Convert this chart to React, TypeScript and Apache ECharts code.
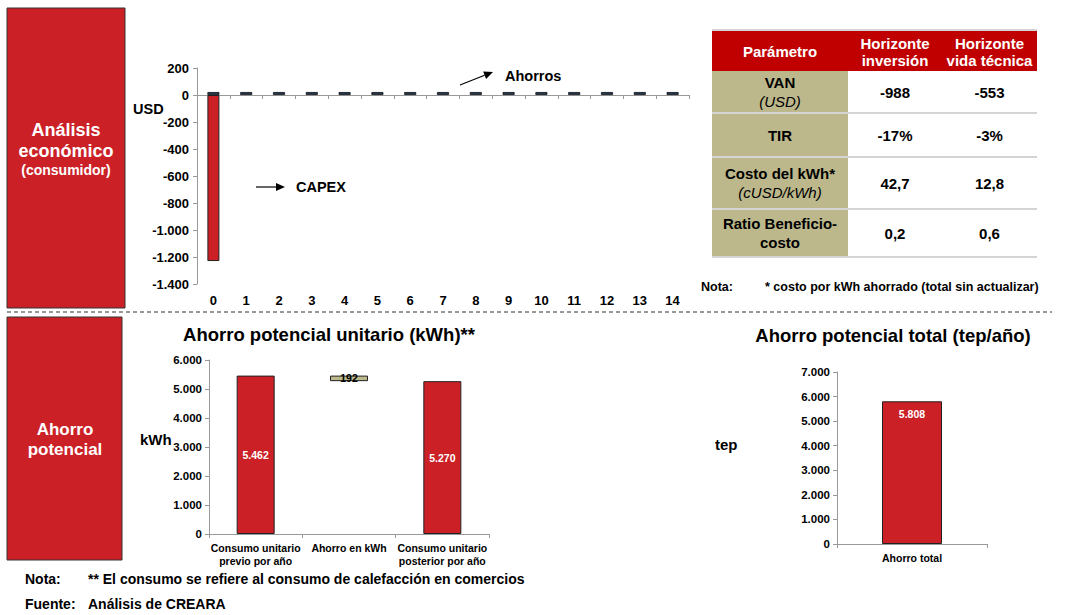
import React, { useEffect, useRef } from "react";
import * as echarts from "echarts";

const FONT = "'Liberation Sans', Arial, Helvetica, sans-serif";

// Top chart: cash flow per year (USD)
const years = ["0", "1", "2", "3", "4", "5", "6", "7", "8", "9", "10", "11", "12", "13", "14"];
const capexValues = [-1230, null, null, null, null, null, null, null, null, null, null, null, null, null, null];
const savingsValues = [22, 22, 22, 22, 22, 22, 22, 22, 22, 22, 22, 22, 22, 22, 22];

// Bottom-left chart: unit savings (kWh)
const unitCategories = ["Consumo unitario\nprevio por año", "Ahorro en kWh", "Consumo unitario\nposterior por año"];
const unitBefore = 5462;
const unitSaving = 192;
const unitAfter = 5270;

// Bottom-right chart: total savings (tep/año)
const totalCategories = ["Ahorro total"];
const totalValues = [5808];

// Table
const tableHeader = ["Parámetro", "Horizonte\ninversión", "Horizonte\nvida técnica"];
const tableParams = ["VAN", "TIR", "Costo del kWh*", "Ratio Beneficio-\ncosto"];
const tableUnits = ["(USD)", "", "(cUSD/kWh)", ""];
const tableInversion = ["-988", "-17%", "42,7", "0,2"];
const tableVida = ["-553", "-3%", "12,8", "0,6"];

const RED = "#CC2027";
const HEADER_RED = "#C00000";
const KHAKI = "#BDB88C";

function fmt(v: number): string {
  const neg = v < 0;
  const s = String(Math.round(Math.abs(v)));
  const withDots = s.replace(/\B(?=(\d{3})+(?!\d))/g, ".");
  return (neg ? "-" : "") + withDots;
}

function txt(text: string, x: number, y: number, size: number, opts: any = {}) {
  return {
    type: "text",
    z: 100,
    style: {
      text,
      x,
      y,
      fill: opts.fill || "#000",
      fontSize: size,
      fontWeight: opts.weight || "bold",
      fontStyle: opts.style || "normal",
      fontFamily: FONT,
      align: opts.align || "left",
      verticalAlign: "middle",
      lineHeight: opts.lineHeight,
      rich: opts.rich,
    },
  };
}

function buildTable(): any[] {
  const els: any[] = [];
  const colX = [712, 848, 942, 1037];
  const rowY = [30, 71, 113, 157, 209, 257];
  const FS = 15;
  els.push({ type: "rect", shape: { x: colX[0], y: rowY[0], width: colX[3] - colX[0], height: rowY[1] - rowY[0] }, style: { fill: HEADER_RED } });
  for (let c = 0; c < 3; c++) {
    const cx = (colX[c] + colX[c + 1]) / 2;
    els.push(txt(tableHeader[c], cx, (rowY[0] + rowY[1]) / 2 + 1, FS, { fill: "#fff", align: "center", lineHeight: 17 }));
  }
  for (let r = 0; r < tableParams.length; r++) {
    const y0 = rowY[r + 1];
    const y1 = rowY[r + 2];
    const cy = (y0 + y1) / 2;
    els.push({ type: "rect", shape: { x: colX[0], y: y0, width: colX[1] - colX[0], height: y1 - y0 }, style: { fill: KHAKI } });
    const cx0 = (colX[0] + colX[1]) / 2;
    if (tableUnits[r]) {
      els.push({
        type: "text",
        z: 100,
        style: {
          text: "{b|" + tableParams[r] + "}\n{i|" + tableUnits[r] + "}",
          x: cx0,
          y: cy,
          align: "center",
          verticalAlign: "middle",
          rich: {
            b: { fontSize: FS, fontWeight: "bold", fontFamily: FONT, fill: "#000", lineHeight: 19, align: "center" },
            i: { fontSize: FS, fontStyle: "italic", fontWeight: "normal", fontFamily: FONT, fill: "#000", lineHeight: 19, align: "center" },
          },
        },
      });
    } else {
      els.push(txt(tableParams[r], cx0, cy, FS, { align: "center", lineHeight: 19 }));
    }
    els.push(txt(tableInversion[r], (colX[1] + colX[2]) / 2, cy, FS, { align: "center" }));
    els.push(txt(tableVida[r], (colX[2] + colX[3]) / 2, cy, FS, { align: "center" }));
  }
  for (let i = 0; i < rowY.length; i++) {
    if (i === 1) continue;
    els.push({ type: "line", z: 50, shape: { x1: colX[0], y1: rowY[i], x2: colX[3], y2: rowY[i] }, style: { stroke: "#D4D4D4", lineWidth: 2 } });
  }
  els.push(txt("Nota:", 701, 287, 12.5));
  els.push(txt("* costo por kWh ahorrado (total sin actualizar)", 765, 287, 12.5));
  return els;
}

function arrow(x1: number, y1: number, x2: number, y2: number): any[] {
  const ang = Math.atan2(y2 - y1, x2 - x1);
  const L = 9;
  const W = 4;
  const bx = x2 - L * Math.cos(ang);
  const by = y2 - L * Math.sin(ang);
  const px = -Math.sin(ang) * W;
  const py = Math.cos(ang) * W;
  return [
    { type: "line", shape: { x1, y1, x2: bx, y2: by }, style: { stroke: "#000", lineWidth: 1.2 } },
    { type: "polygon", shape: { points: [[x2, y2], [bx + px, by + py], [bx - px, by - py]] }, style: { fill: "#000" } },
  ];
}

const axisLabelStyle = { color: "#000", fontWeight: "bold", fontFamily: FONT };

export default function App() {
  const ref = useRef<HTMLDivElement>(null);
  useEffect(() => {
    if (!ref.current) return;
    const chart = echarts.init(ref.current, undefined, { renderer: "svg" });
    const unitBase = [0, unitAfter, 0];
    const unitBars = [
      { value: unitBefore, itemStyle: { color: RED, borderColor: "#222", borderWidth: 1 }, label: { color: "#fff" } },
      { value: unitSaving, itemStyle: { color: KHAKI, borderColor: "#222", borderWidth: 1 }, label: { color: "#000" } },
      { value: unitAfter, itemStyle: { color: RED, borderColor: "#222", borderWidth: 1 }, label: { color: "#fff" } },
    ];
    const graphic: any[] = [
      { type: "rect", shape: { x: 7, y: 8, width: 118, height: 300 }, style: { fill: RED, stroke: "#333", lineWidth: 1 } },
      txt("Análisis", 66, 130, 18, { fill: "#fff", align: "center" }),
      txt("económico", 66, 151, 18, { fill: "#fff", align: "center" }),
      txt("(consumidor)", 66, 170, 14, { fill: "#fff", align: "center" }),
      { type: "rect", shape: { x: 7, y: 317, width: 115, height: 243 }, style: { fill: RED, stroke: "#333", lineWidth: 1 } },
      txt("Ahorro", 65, 429, 17, { fill: "#fff", align: "center" }),
      txt("potencial", 65, 449, 17, { fill: "#fff", align: "center" }),
      { type: "line", shape: { x1: 7, y1: 312, x2: 1052, y2: 312 }, style: { stroke: "#333", lineWidth: 1, lineDash: [4, 3] } },
      txt("USD", 133, 109, 14.5),
      txt("Ahorros", 505, 76, 14.5),
      ...arrow(460, 85, 493, 72),
      txt("CAPEX", 296, 187, 14.5),
      ...arrow(256, 187, 285, 187),
      txt("Ahorro potencial unitario (kWh)**", 329, 334, 18.5, { align: "center" }),
      txt("kWh", 140, 439, 15),
      txt("Ahorro potencial total (tep/año)", 893, 335, 18.5, { align: "center" }),
      txt("tep", 715, 444, 15),
      txt("Nota:", 25, 579, 14),
      txt("** El consumo se refiere al consumo de calefacción en comercios", 88, 579, 14),
      txt("Fuente:", 25, 604, 14),
      txt("Análisis de CREARA", 88, 604, 14),
      ...buildTable(),
    ];
    chart.setOption({
      animation: false,
      backgroundColor: "#fff",
      textStyle: { fontFamily: FONT },
      graphic,
      grid: [
        { left: 197, top: 68, width: 492, height: 216 },
        { left: 209, top: 360, width: 280, height: 174 },
        { left: 837, top: 372, width: 150, height: 172 },
      ],
      xAxis: [
        {
          type: "category", gridIndex: 0, data: years, position: "bottom",
          axisLine: { onZero: true, lineStyle: { color: "#999" } },
          axisTick: { show: true, length: 4, lineStyle: { color: "#999" } },
          axisLabel: { show: false },
        },
        {
          type: "category", gridIndex: 0, data: years, position: "bottom",
          axisLine: { show: false, onZero: false }, axisTick: { show: false },
          axisLabel: { ...axisLabelStyle, fontSize: 13, margin: 10 },
        },
        {
          type: "category", gridIndex: 1, data: unitCategories,
          axisLine: { lineStyle: { color: "#999" } },
          axisTick: { show: true, length: 4, lineStyle: { color: "#999" } },
          axisLabel: { ...axisLabelStyle, fontSize: 10.5, interval: 0, lineHeight: 13, margin: 7 },
        },
        {
          type: "category", gridIndex: 2, data: totalCategories,
          axisLine: { lineStyle: { color: "#999" } },
          axisTick: { show: true, length: 4, lineStyle: { color: "#999" } },
          axisLabel: { ...axisLabelStyle, fontSize: 10.5, margin: 8 },
        },
      ],
      yAxis: [
        {
          type: "value", gridIndex: 0, min: -1400, max: 200, interval: 200,
          splitLine: { show: false },
          axisLine: { show: true, lineStyle: { color: "#999" } },
          axisTick: { show: true, length: 4, lineStyle: { color: "#999" } },
          axisLabel: { ...axisLabelStyle, fontSize: 13, margin: 8, formatter: (v: number) => fmt(v) },
        },
        {
          type: "value", gridIndex: 1, min: 0, max: 6000, interval: 1000,
          splitLine: { show: false },
          axisLine: { show: true, lineStyle: { color: "#999" } },
          axisTick: { show: true, length: 4, lineStyle: { color: "#999" } },
          axisLabel: { ...axisLabelStyle, fontSize: 11.5, margin: 7, formatter: (v: number) => fmt(v) },
        },
        {
          type: "value", gridIndex: 2, min: 0, max: 7000, interval: 1000,
          splitLine: { show: false },
          axisLine: { show: true, lineStyle: { color: "#999" } },
          axisTick: { show: true, length: 4, lineStyle: { color: "#999" } },
          axisLabel: { ...axisLabelStyle, fontSize: 11.5, margin: 7, formatter: (v: number) => fmt(v) },
        },
      ],
      series: [
        {
          type: "bar", name: "CAPEX", xAxisIndex: 0, yAxisIndex: 0, stack: "cf",
          data: capexValues, barWidth: 12,
          itemStyle: { color: RED, borderColor: "#222", borderWidth: 1 },
        },
        {
          type: "bar", name: "Ahorros", xAxisIndex: 0, yAxisIndex: 0, stack: "cf",
          data: savingsValues, barWidth: 12,
          itemStyle: { color: "#1F3550", borderColor: "#111", borderWidth: 0.8 },
        },
        {
          type: "bar", xAxisIndex: 2, yAxisIndex: 1, stack: "w", silent: true,
          data: unitBase, barWidth: 38,
          itemStyle: { color: "transparent", borderWidth: 0 },
        },
        {
          type: "bar", xAxisIndex: 2, yAxisIndex: 1, stack: "w",
          data: unitBars, barWidth: 38,
          label: {
            show: true, position: "inside", fontSize: 10.5, fontWeight: "bold", fontFamily: FONT,
            formatter: (p: any) => fmt(p.value),
          },
        },
        {
          type: "bar", xAxisIndex: 3, yAxisIndex: 2,
          data: totalValues, barWidth: 60,
          itemStyle: { color: RED, borderColor: "#222", borderWidth: 1 },
          label: {
            show: true, position: "insideTop", distance: 7, color: "#fff", fontSize: 10.5, fontWeight: "bold", fontFamily: FONT,
            formatter: (p: any) => fmt(p.value),
          },
        },
      ],
    });
    return () => chart.dispose();
  }, []);
  return (
    <div
      ref={ref}
      style={{ position: "fixed", left: 0, top: 0, width: 1080, height: 615, background: "#fff" }}
    />
  );
}
